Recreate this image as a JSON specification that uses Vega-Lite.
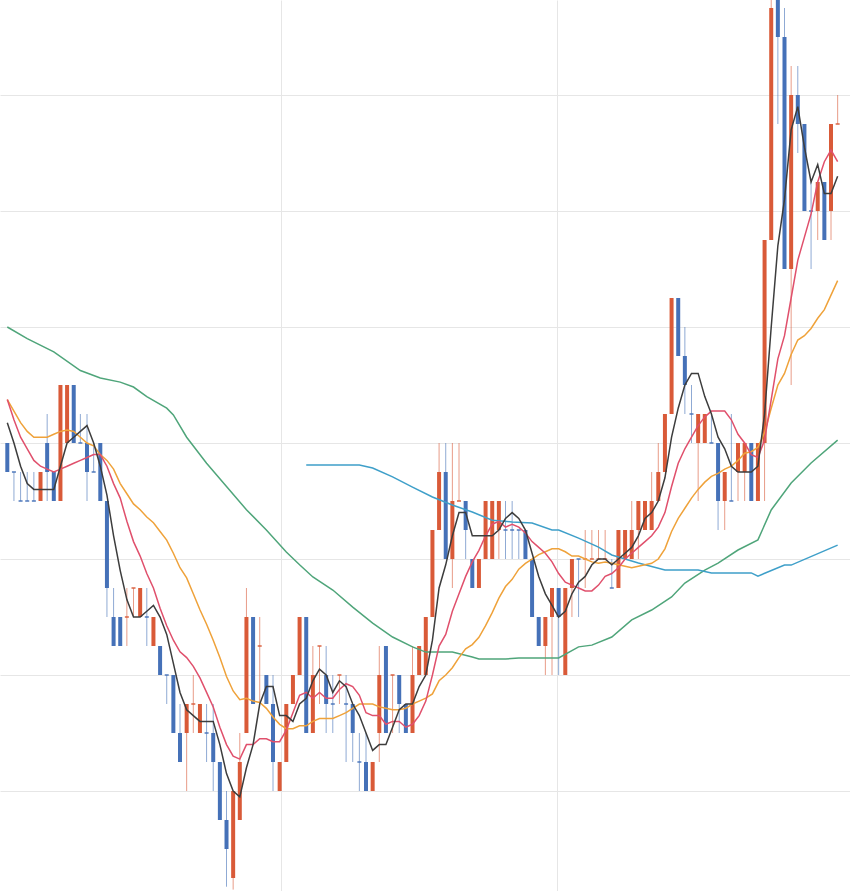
{
  "$schema": "https://vega.github.io/schema/vega-lite/v6.json",
  "width": 850,
  "height": 891,
  "autosize": {"type": "none"},
  "padding": 0,
  "background": "white",
  "config": {"view": {"stroke": null}},
  "datasets": {
    "k": [
      {"i":0,"o":12,"h":12,"l":11,"c":11,"d":"down"},
      {"i":1,"o":11,"h":11,"l":10,"c":11,"d":"down"},
      {"i":2,"o":10,"h":11,"l":10,"c":10,"d":"down"},
      {"i":3,"o":10,"h":11,"l":10,"c":10,"d":"down"},
      {"i":4,"o":10,"h":11,"l":10,"c":10,"d":"down"},
      {"i":5,"o":10,"h":11,"l":10,"c":11,"d":"up"},
      {"i":6,"o":12,"h":13,"l":10,"c":11,"d":"down"},
      {"i":7,"o":11,"h":11,"l":10,"c":10,"d":"down"},
      {"i":8,"o":10,"h":14,"l":10,"c":14,"d":"up"},
      {"i":9,"o":12,"h":14,"l":12,"c":14,"d":"up"},
      {"i":10,"o":14,"h":14,"l":12,"c":12,"d":"down"},
      {"i":11,"o":12,"h":13,"l":12,"c":12,"d":"down"},
      {"i":12,"o":12,"h":13,"l":10,"c":11,"d":"down"},
      {"i":13,"o":11,"h":12,"l":11,"c":11,"d":"down"},
      {"i":14,"o":12,"h":12,"l":10,"c":10,"d":"down"},
      {"i":15,"o":10,"h":10,"l":6,"c":7,"d":"down"},
      {"i":16,"o":6,"h":7,"l":5,"c":5,"d":"down"},
      {"i":17,"o":6,"h":6,"l":5,"c":5,"d":"down"},
      {"i":18,"o":6,"h":7,"l":5,"c":6,"d":"up"},
      {"i":19,"o":7,"h":7,"l":6,"c":7,"d":"up"},
      {"i":20,"o":6,"h":7,"l":6,"c":7,"d":"up"},
      {"i":21,"o":6,"h":7,"l":5,"c":6,"d":"down"},
      {"i":22,"o":5,"h":6,"l":5,"c":6,"d":"up"},
      {"i":23,"o":5,"h":5,"l":4,"c":4,"d":"down"},
      {"i":24,"o":4,"h":4,"l":3,"c":4,"d":"down"},
      {"i":25,"o":4,"h":4,"l":2,"c":2,"d":"down"},
      {"i":26,"o":2,"h":3,"l":1,"c":1,"d":"down"},
      {"i":27,"o":2,"h":3,"l":0,"c":3,"d":"up"},
      {"i":28,"o":3,"h":4,"l":2,"c":3,"d":"up"},
      {"i":29,"o":2,"h":3,"l":2,"c":3,"d":"up"},
      {"i":30,"o":2,"h":3,"l":1,"c":2,"d":"down"},
      {"i":31,"o":2,"h":3,"l":0,"c":1,"d":"down"},
      {"i":32,"o":1,"h":1,"l":-1,"c":-1,"d":"down"},
      {"i":33,"o":-1,"h":0,"l":-3.3,"c":-2,"d":"down"},
      {"i":34,"o":-3,"h":0,"l":-3.4,"c":0,"d":"up"},
      {"i":35,"o":-1,"h":2,"l":-1,"c":1,"d":"up"},
      {"i":36,"o":2,"h":7,"l":2,"c":6,"d":"up"},
      {"i":37,"o":6,"h":6,"l":3,"c":3,"d":"down"},
      {"i":38,"o":5,"h":6,"l":3,"c":5,"d":"up"},
      {"i":39,"o":4,"h":4,"l":3,"c":3,"d":"down"},
      {"i":40,"o":3,"h":4,"l":0,"c":1,"d":"down"},
      {"i":41,"o":0,"h":1,"l":0,"c":1,"d":"up"},
      {"i":42,"o":1,"h":3,"l":1,"c":3,"d":"up"},
      {"i":43,"o":3,"h":4,"l":3,"c":4,"d":"up"},
      {"i":44,"o":4,"h":6,"l":4,"c":6,"d":"up"},
      {"i":45,"o":6,"h":6,"l":2,"c":2,"d":"down"},
      {"i":46,"o":2,"h":5,"l":2,"c":4,"d":"up"},
      {"i":47,"o":5,"h":5,"l":3,"c":5,"d":"up"},
      {"i":48,"o":4,"h":5,"l":2,"c":3,"d":"down"},
      {"i":49,"o":3,"h":4,"l":2,"c":3,"d":"down"},
      {"i":50,"o":4,"h":4,"l":3,"c":4,"d":"up"},
      {"i":51,"o":3,"h":4,"l":1,"c":3,"d":"down"},
      {"i":52,"o":3,"h":3,"l":1,"c":2,"d":"down"},
      {"i":53,"o":1,"h":2,"l":0,"c":1,"d":"down"},
      {"i":54,"o":1,"h":2,"l":0,"c":0,"d":"down"},
      {"i":55,"o":0,"h":1,"l":0,"c":1,"d":"up"},
      {"i":56,"o":2,"h":5,"l":1,"c":4,"d":"up"},
      {"i":57,"o":5,"h":5,"l":2,"c":2,"d":"down"},
      {"i":58,"o":4,"h":4,"l":2,"c":4,"d":"up"},
      {"i":59,"o":4,"h":4,"l":2,"c":3,"d":"down"},
      {"i":60,"o":3,"h":3,"l":2,"c":2,"d":"down"},
      {"i":61,"o":2,"h":5,"l":2,"c":4,"d":"up"},
      {"i":62,"o":4,"h":5,"l":4,"c":5,"d":"up"},
      {"i":63,"o":4,"h":6,"l":4,"c":6,"d":"up"},
      {"i":64,"o":6,"h":9,"l":6,"c":9,"d":"up"},
      {"i":65,"o":9,"h":12,"l":9,"c":11,"d":"up"},
      {"i":66,"o":11,"h":12,"l":8,"c":8,"d":"down"},
      {"i":67,"o":8,"h":12,"l":7,"c":10,"d":"up"},
      {"i":68,"o":10,"h":12,"l":10,"c":10,"d":"up"},
      {"i":69,"o":10,"h":10,"l":8,"c":9,"d":"down"},
      {"i":70,"o":8,"h":8,"l":7,"c":7,"d":"down"},
      {"i":71,"o":7,"h":8,"l":7,"c":8,"d":"up"},
      {"i":72,"o":8,"h":10,"l":8,"c":10,"d":"up"},
      {"i":73,"o":8,"h":10,"l":8,"c":10,"d":"up"},
      {"i":74,"o":9,"h":10,"l":8,"c":10,"d":"up"},
      {"i":75,"o":9,"h":10,"l":8,"c":9,"d":"down"},
      {"i":76,"o":9,"h":10,"l":8,"c":9,"d":"down"},
      {"i":77,"o":9,"h":9,"l":8,"c":9,"d":"down"},
      {"i":78,"o":9,"h":9,"l":8,"c":8,"d":"down"},
      {"i":79,"o":8,"h":8,"l":6,"c":6,"d":"down"},
      {"i":80,"o":6,"h":6,"l":5,"c":5,"d":"down"},
      {"i":81,"o":5,"h":6,"l":4,"c":6,"d":"up"},
      {"i":82,"o":6,"h":7,"l":4,"c":7,"d":"up"},
      {"i":83,"o":7,"h":7,"l":4,"c":6,"d":"down"},
      {"i":84,"o":4,"h":7,"l":4,"c":7,"d":"up"},
      {"i":85,"o":7,"h":8,"l":6,"c":8,"d":"up"},
      {"i":86,"o":8,"h":8,"l":6,"c":8,"d":"down"},
      {"i":87,"o":8,"h":9,"l":7,"c":8,"d":"up"},
      {"i":88,"o":8,"h":9,"l":8,"c":8,"d":"up"},
      {"i":89,"o":8,"h":9,"l":8,"c":8,"d":"up"},
      {"i":90,"o":8,"h":9,"l":8,"c":8,"d":"up"},
      {"i":91,"o":7,"h":8,"l":7,"c":7,"d":"down"},
      {"i":92,"o":7,"h":9,"l":7,"c":9,"d":"up"},
      {"i":93,"o":8,"h":9,"l":8,"c":9,"d":"up"},
      {"i":94,"o":8,"h":10,"l":8,"c":9,"d":"up"},
      {"i":95,"o":9,"h":10,"l":8,"c":10,"d":"up"},
      {"i":96,"o":9,"h":10,"l":9,"c":10,"d":"up"},
      {"i":97,"o":9,"h":11,"l":9,"c":10,"d":"up"},
      {"i":98,"o":10,"h":12,"l":10,"c":11,"d":"up"},
      {"i":99,"o":11,"h":13,"l":11,"c":13,"d":"up"},
      {"i":100,"o":13,"h":17,"l":13,"c":17,"d":"up"},
      {"i":101,"o":17,"h":17,"l":15,"c":15,"d":"down"},
      {"i":102,"o":15,"h":16,"l":13,"c":14,"d":"down"},
      {"i":103,"o":13,"h":14,"l":12,"c":13,"d":"down"},
      {"i":104,"o":12,"h":13,"l":10,"c":13,"d":"up"},
      {"i":105,"o":12,"h":13,"l":12,"c":13,"d":"up"},
      {"i":106,"o":12,"h":13,"l":12,"c":12,"d":"down"},
      {"i":107,"o":12,"h":12,"l":9,"c":10,"d":"down"},
      {"i":108,"o":10,"h":11,"l":9,"c":11,"d":"up"},
      {"i":109,"o":10,"h":13,"l":10,"c":10,"d":"down"},
      {"i":110,"o":11,"h":12,"l":10,"c":12,"d":"up"},
      {"i":111,"o":11,"h":12,"l":10,"c":12,"d":"up"},
      {"i":112,"o":12,"h":12,"l":10,"c":10,"d":"down"},
      {"i":113,"o":10,"h":12,"l":10,"c":12,"d":"up"},
      {"i":114,"o":12,"h":19,"l":10,"c":19,"d":"up"},
      {"i":115,"o":19,"h":27.3,"l":19,"c":27,"d":"up"},
      {"i":116,"o":27.3,"h":27.3,"l":23,"c":26,"d":"down"},
      {"i":117,"o":26,"h":27,"l":18,"c":18,"d":"down"},
      {"i":118,"o":18,"h":25,"l":14,"c":24,"d":"up"},
      {"i":119,"o":24,"h":25,"l":22,"c":23,"d":"down"},
      {"i":120,"o":23,"h":23,"l":20,"c":20,"d":"down"},
      {"i":121,"o":20,"h":21,"l":18,"c":20,"d":"down"},
      {"i":122,"o":20,"h":21,"l":19,"c":21,"d":"up"},
      {"i":123,"o":21,"h":21,"l":19,"c":19,"d":"down"},
      {"i":124,"o":20,"h":23,"l":19,"c":23,"d":"up"},
      {"i":125,"o":23,"h":24,"l":23,"c":23,"d":"up"}
    ],
    "ma": [
      {"i":0,"m5":12.7,"m10":13.5,"m20":13.5},
      {"i":1,"m5":12.0,"m10":12.8,"m20":13.1},
      {"i":2,"m5":11.2,"m10":12.2,"m20":12.7},
      {"i":3,"m5":10.6,"m10":11.8,"m20":12.4},
      {"i":4,"m5":10.4,"m10":11.4,"m20":12.2},
      {"i":5,"m5":10.4,"m10":11.2,"m20":12.2},
      {"i":6,"m5":10.4,"m10":11.1,"m20":12.2},
      {"i":7,"m5":10.4,"m10":11.0,"m20":12.3},
      {"i":8,"m5":11.2,"m10":11.1,"m20":12.4},
      {"i":9,"m5":12.0,"m10":11.2,"m20":12.45},
      {"i":10,"m5":12.2,"m10":11.3,"m20":12.4},
      {"i":11,"m5":12.4,"m10":11.4,"m20":12.2},
      {"i":12,"m5":12.6,"m10":11.5,"m20":12.0},
      {"i":13,"m5":12.0,"m10":11.6,"m20":11.9},
      {"i":14,"m5":11.2,"m10":11.6,"m20":11.6},
      {"i":15,"m5":10.2,"m10":11.2,"m20":11.4},
      {"i":16,"m5":8.8,"m10":10.6,"m20":11.1},
      {"i":17,"m5":7.6,"m10":10.1,"m20":10.6},
      {"i":18,"m5":6.6,"m10":9.3,"m20":10.25},
      {"i":19,"m5":6.0,"m10":8.6,"m20":9.9},
      {"i":20,"m5":6.0,"m10":8.1,"m20":9.7},
      {"i":21,"m5":6.2,"m10":7.5,"m20":9.45},
      {"i":22,"m5":6.4,"m10":7.0,"m20":9.25},
      {"i":23,"m5":6.0,"m10":6.3,"m20":8.95},
      {"i":24,"m5":5.4,"m10":5.7,"m20":8.65},
      {"i":25,"m5":4.4,"m10":5.2,"m20":8.2},
      {"i":26,"m5":3.4,"m10":4.8,"m20":7.7},
      {"i":27,"m5":2.8,"m10":4.6,"m20":7.35},
      {"i":28,"m5":2.6,"m10":4.3,"m20":6.8},
      {"i":29,"m5":2.4,"m10":3.9,"m20":6.25},
      {"i":30,"m5":2.4,"m10":3.4,"m20":5.75},
      {"i":31,"m5":2.4,"m10":2.9,"m20":5.2},
      {"i":32,"m5":1.6,"m10":2.2,"m20":4.6},
      {"i":33,"m5":0.6,"m10":1.6,"m20":3.95},
      {"i":34,"m5":0.0,"m10":1.2,"m20":3.45},
      {"i":35,"m5":-0.2,"m10":1.1,"m20":3.15},
      {"i":36,"m5":0.8,"m10":1.6,"m20":3.2},
      {"i":37,"m5":1.6,"m10":1.6,"m20":3.1},
      {"i":38,"m5":3.0,"m10":1.8,"m20":3.05},
      {"i":39,"m5":3.6,"m10":1.8,"m20":2.85},
      {"i":40,"m5":3.6,"m10":1.7,"m20":2.55},
      {"i":41,"m5":2.6,"m10":1.7,"m20":2.3},
      {"i":42,"m5":2.6,"m10":2.1,"m20":2.15},
      {"i":43,"m5":2.4,"m10":2.7,"m20":2.15},
      {"i":44,"m5":3.0,"m10":3.3,"m20":2.25},
      {"i":45,"m5":3.2,"m10":3.4,"m20":2.25},
      {"i":46,"m5":3.8,"m10":3.2,"m20":2.4},
      {"i":47,"m5":4.2,"m10":3.4,"m20":2.5},
      {"i":48,"m5":4.0,"m10":3.2,"m20":2.5},
      {"i":49,"m5":3.4,"m10":3.2,"m20":2.5},
      {"i":50,"m5":3.8,"m10":3.5,"m20":2.6},
      {"i":51,"m5":3.6,"m10":3.7,"m20":2.7},
      {"i":52,"m5":3.0,"m10":3.6,"m20":2.85},
      {"i":53,"m5":2.6,"m10":3.3,"m20":3.0},
      {"i":54,"m5":2.0,"m10":2.7,"m20":3.0},
      {"i":55,"m5":1.4,"m10":2.6,"m20":3.0},
      {"i":56,"m5":1.6,"m10":2.6,"m20":2.9},
      {"i":57,"m5":1.6,"m10":2.3,"m20":2.85},
      {"i":58,"m5":2.2,"m10":2.4,"m20":2.8},
      {"i":59,"m5":2.8,"m10":2.4,"m20":2.8},
      {"i":60,"m5":3.0,"m10":2.2,"m20":2.85},
      {"i":61,"m5":3.0,"m10":2.3,"m20":3.0},
      {"i":62,"m5":3.6,"m10":2.6,"m20":3.1},
      {"i":63,"m5":4.0,"m10":3.1,"m20":3.2},
      {"i":64,"m5":5.2,"m10":4.0,"m20":3.35},
      {"i":65,"m5":7.0,"m10":5.0,"m20":3.8},
      {"i":66,"m5":7.8,"m10":5.4,"m20":4.0},
      {"i":67,"m5":8.8,"m10":6.2,"m20":4.25},
      {"i":68,"m5":9.6,"m10":6.8,"m20":4.6},
      {"i":69,"m5":9.6,"m10":7.4,"m20":4.9},
      {"i":70,"m5":8.8,"m10":7.9,"m20":5.05},
      {"i":71,"m5":8.8,"m10":8.3,"m20":5.3},
      {"i":72,"m5":8.8,"m10":8.8,"m20":5.7},
      {"i":73,"m5":8.8,"m10":9.2,"m20":6.15},
      {"i":74,"m5":9.0,"m10":9.3,"m20":6.65},
      {"i":75,"m5":9.4,"m10":9.1,"m20":7.05},
      {"i":76,"m5":9.6,"m10":9.2,"m20":7.3},
      {"i":77,"m5":9.4,"m10":9.1,"m20":7.65},
      {"i":78,"m5":9.0,"m10":8.9,"m20":7.85},
      {"i":79,"m5":8.2,"m10":8.6,"m20":8.0},
      {"i":80,"m5":7.4,"m10":8.4,"m20":8.15},
      {"i":81,"m5":6.8,"m10":8.2,"m20":8.25},
      {"i":82,"m5":6.4,"m10":7.9,"m20":8.35},
      {"i":83,"m5":6.0,"m10":7.5,"m20":8.35},
      {"i":84,"m5":6.2,"m10":7.2,"m20":8.25},
      {"i":85,"m5":6.8,"m10":7.1,"m20":8.1},
      {"i":86,"m5":7.2,"m10":7.0,"m20":8.1},
      {"i":87,"m5":7.4,"m10":6.9,"m20":8.0},
      {"i":88,"m5":7.8,"m10":6.9,"m20":7.9},
      {"i":89,"m5":8.0,"m10":7.1,"m20":7.85},
      {"i":90,"m5":8.0,"m10":7.4,"m20":7.9},
      {"i":91,"m5":7.8,"m10":7.5,"m20":7.85},
      {"i":92,"m5":8.0,"m10":7.7,"m20":7.8},
      {"i":93,"m5":8.2,"m10":8.0,"m20":7.75},
      {"i":94,"m5":8.4,"m10":8.2,"m20":7.7},
      {"i":95,"m5":8.8,"m10":8.4,"m20":7.75},
      {"i":96,"m5":9.4,"m10":8.6,"m20":7.8},
      {"i":97,"m5":9.6,"m10":8.8,"m20":7.85},
      {"i":98,"m5":10.0,"m10":9.1,"m20":8.0},
      {"i":99,"m5":10.8,"m10":9.6,"m20":8.35},
      {"i":100,"m5":12.2,"m10":10.5,"m20":8.95},
      {"i":101,"m5":13.2,"m10":11.3,"m20":9.4},
      {"i":102,"m5":14.0,"m10":11.8,"m20":9.75},
      {"i":103,"m5":14.4,"m10":12.2,"m20":10.1},
      {"i":104,"m5":14.4,"m10":12.6,"m20":10.4},
      {"i":105,"m5":13.6,"m10":12.9,"m20":10.65},
      {"i":106,"m5":13.0,"m10":13.1,"m20":10.85},
      {"i":107,"m5":12.2,"m10":13.1,"m20":10.95},
      {"i":108,"m5":11.8,"m10":13.1,"m20":11.1},
      {"i":109,"m5":11.2,"m10":12.8,"m20":11.2},
      {"i":110,"m5":11.0,"m10":12.3,"m20":11.4},
      {"i":111,"m5":11.0,"m10":12.0,"m20":11.65},
      {"i":112,"m5":11.0,"m10":11.6,"m20":11.7},
      {"i":113,"m5":11.2,"m10":11.5,"m20":11.85},
      {"i":114,"m5":13.0,"m10":12.1,"m20":12.35},
      {"i":115,"m5":16.0,"m10":13.5,"m20":13.2},
      {"i":116,"m5":18.8,"m10":14.9,"m20":14.0},
      {"i":117,"m5":20.4,"m10":15.7,"m20":14.4},
      {"i":118,"m5":22.8,"m10":17.0,"m20":15.05},
      {"i":119,"m5":23.6,"m10":18.3,"m20":15.55},
      {"i":120,"m5":22.2,"m10":19.1,"m20":15.7},
      {"i":121,"m5":21.0,"m10":19.9,"m20":15.95},
      {"i":122,"m5":21.6,"m10":21.0,"m20":16.3},
      {"i":123,"m5":20.6,"m10":21.7,"m20":16.6},
      {"i":124,"m5":20.6,"m10":22.1,"m20":17.1},
      {"i":125,"m5":21.2,"m10":21.7,"m20":17.6}
    ],
    "green": [
      {"i":0,"v":16.0},{"i":3,"v":15.6},{"i":7,"v":15.14},{"i":11,"v":14.5},{"i":14,"v":14.24},
      {"i":17,"v":14.1},{"i":19,"v":13.93},{"i":21,"v":13.6},{"i":24,"v":13.2},{"i":25,"v":12.97},
      {"i":27,"v":12.2},{"i":30,"v":11.3},{"i":33,"v":10.5},{"i":36,"v":9.7},{"i":39,"v":9.0},
      {"i":42,"v":8.24},{"i":44,"v":7.8},{"i":46,"v":7.38},{"i":49,"v":6.93},{"i":52,"v":6.34},
      {"i":55,"v":5.79},{"i":58,"v":5.31},{"i":61,"v":4.97},{"i":63,"v":4.79},{"i":67,"v":4.79},
      {"i":70,"v":4.62},{"i":71,"v":4.55},{"i":75,"v":4.55},{"i":77,"v":4.59},{"i":83,"v":4.59},
      {"i":86,"v":4.97},{"i":88,"v":5.03},{"i":91,"v":5.31},{"i":94,"v":5.9},{"i":97,"v":6.24},
      {"i":100,"v":6.69},{"i":102,"v":7.17},{"i":105,"v":7.62},{"i":107,"v":7.86},{"i":110,"v":8.31},
      {"i":113,"v":8.66},{"i":115,"v":9.69},{"i":118,"v":10.62},{"i":121,"v":11.31},{"i":125,"v":12.1}
    ],
    "cyan": [
      {"i":45,"v":11.24},{"i":53,"v":11.24},{"i":55,"v":11.14},{"i":58,"v":10.83},{"i":61,"v":10.48},
      {"i":64,"v":10.14},{"i":67,"v":9.86},{"i":70,"v":9.62},{"i":73,"v":9.34},{"i":76,"v":9.28},
      {"i":79,"v":9.24},{"i":82,"v":9.0},{"i":83,"v":9.0},{"i":86,"v":8.72},{"i":89,"v":8.41},
      {"i":91,"v":8.14},{"i":95,"v":7.86},{"i":99,"v":7.62},{"i":104,"v":7.62},{"i":106,"v":7.52},
      {"i":112,"v":7.52},{"i":113,"v":7.41},{"i":117,"v":7.79},{"i":118,"v":7.79},{"i":125,"v":8.48}
    ]
  },
  "encoding": {
    "x": {"field": "i", "type": "quantitative",
      "scale": {"domain": [-1.099, 126.86], "nice": false, "zero": false, "padding": 0},
      "axis": {"values": [41.2, 82.75], "grid": true, "gridColor": "#e6e6e6", "labels": false, "ticks": false, "domain": false, "title": null}}
  },
  "layer": [
    {
      "data": {"name": "k"},
      "mark": {"type": "rule", "strokeWidth": 1, "opacity": 0.6},
      "encoding": {
        "y": {"field": "l", "type": "quantitative",
          "scale": {"domain": [-3.448, 27.276], "nice": false, "zero": false},
          "axis": {"values": [0, 4, 8, 12, 16, 20, 24], "grid": true, "gridColor": "#e6e6e6", "labels": false, "ticks": false, "domain": false, "title": null}},
        "y2": {"field": "h"},
        "color": {"field": "d", "type": "nominal", "scale": {"domain": ["up", "down"], "range": ["#d95a38", "#4571b8"]}, "legend": null}
      }
    },
    {
      "data": {"name": "k"},
      "mark": {"type": "bar", "width": 4},
      "encoding": {
        "y": {"field": "o", "type": "quantitative"},
        "y2": {"field": "c"},
        "color": {"field": "d", "type": "nominal", "legend": null}
      }
    },
    {
      "data": {"name": "k"},
      "transform": [{"filter": "datum.o === datum.c"}],
      "mark": {"type": "tick", "orient": "horizontal", "size": 4, "thickness": 2},
      "encoding": {
        "y": {"field": "c", "type": "quantitative"},
        "color": {"field": "d", "type": "nominal", "legend": null}
      }
    },
    {
      "data": {"name": "green"},
      "mark": {"type": "line", "color": "#4fa57a", "strokeWidth": 1.5},
      "encoding": {"y": {"field": "v", "type": "quantitative"}}
    },
    {
      "data": {"name": "cyan"},
      "mark": {"type": "line", "color": "#3e9fc9", "strokeWidth": 1.5},
      "encoding": {"y": {"field": "v", "type": "quantitative"}}
    },
    {
      "data": {"name": "ma"},
      "mark": {"type": "line", "color": "#efa23a", "strokeWidth": 1.5},
      "encoding": {"y": {"field": "m20", "type": "quantitative"}}
    },
    {
      "data": {"name": "ma"},
      "mark": {"type": "line", "color": "#e0506c", "strokeWidth": 1.5},
      "encoding": {"y": {"field": "m10", "type": "quantitative"}}
    },
    {
      "data": {"name": "ma"},
      "mark": {"type": "line", "color": "#3d3d3d", "strokeWidth": 1.5},
      "encoding": {"y": {"field": "m5", "type": "quantitative"}}
    }
  ]
}
